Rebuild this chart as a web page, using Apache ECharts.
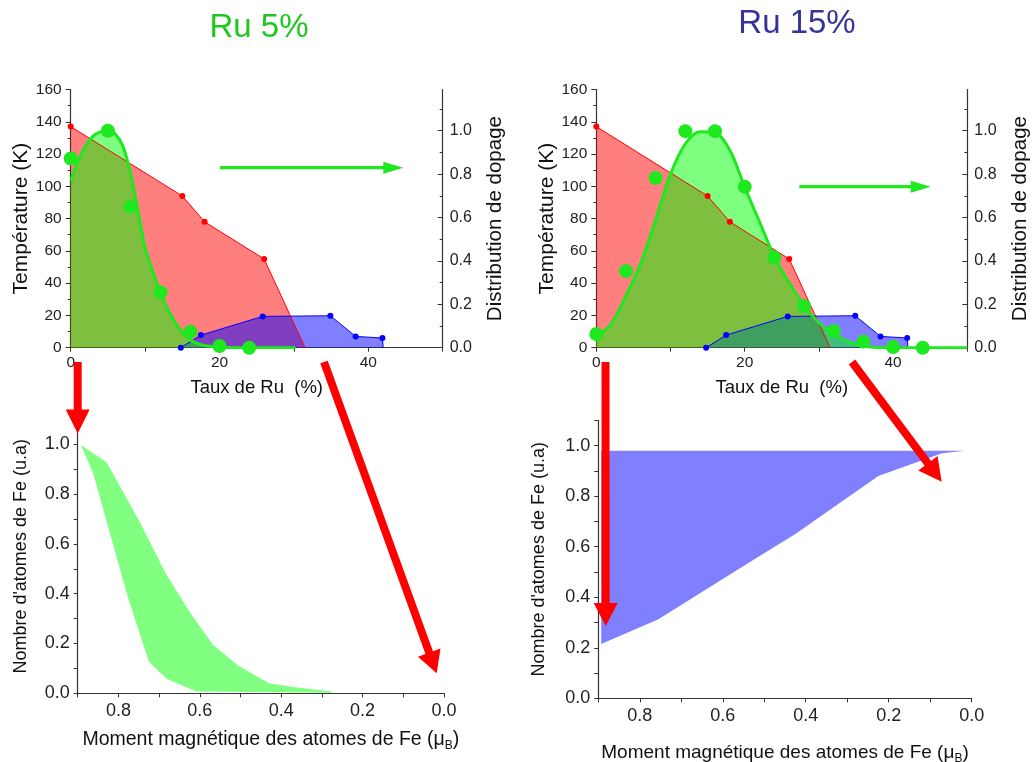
<!DOCTYPE html>
<html>
<head>
<meta charset="utf-8">
<script src="https://cdn.jsdelivr.net/npm/echarts@6/dist/echarts.min.js"></script>
<style>html,body{margin:0;padding:0;background:#fff}#c{width:1035px;height:762px}</style>
</head>
<body>
<div id="c"></div>
<script>
// ---------------- data ----------------
// Top panels: temperature (left axis) vs Ru content
const tempRed  = [[0,137],[15,94],[18,78],[26,55],[31.5,0]];          // last point = axis intercept (no marker)
const tempBlue = [[14.8,0],[17.5,7.8],[25.8,19.4],[34.9,19.8],[38.3,7.0],[41.9,6.0],[42,0]]; // last = drop (no marker)
// Doping distribution (right axis) – Ru 5%
const dop5Points = [[0,0.872],[5,1.0],[8,0.65],[12.1,0.255],[16.1,0.074],[20,0.008],[24,0.0]];
const dop5Curve  = [[0,0.77],[1,0.86],[2,0.93],[3,0.975],[4,0.995],[5,1.0],[6,0.985],[7,0.93],[8,0.81],[9,0.64],
                    [10,0.46],[11,0.355],[12,0.26],[13,0.18],[14,0.12],[15,0.07],[16,0.038],[17,0.02],[18,0.01],
                    [20,0.003],[22,0],[30.2,0]];
// Doping distribution (right axis) – Ru 15%
const dop15Points = [[0,0.063],[4,0.353],[8,0.782],[12,0.998],[16,0.998],[20,0.742],[24,0.416],[28,0.192],
                     [32,0.077],[36,0.028],[40,0.003],[44,0]];
const dop15Curve  = [[0,0.05],[2,0.11],[4,0.24],[6,0.39],[8,0.59],[10,0.80],[12,0.94],[14,0.995],[16,0.99],
                     [18,0.91],[20,0.74],[22,0.58],[24,0.42],[26,0.30],[28,0.195],[30,0.115],[32,0.063],
                     [34,0.028],[36,0.008],[38,0.001],[40,0],[50,0]];
// Bottom panels: number of Fe atoms vs magnetic moment (band = between upper and lower)
const mom5Upper  = [[0.892,0.997],[0.829,0.928],[0.747,0.687],[0.684,0.482],[0.620,0.314],[0.567,0.194],
                    [0.505,0.111],[0.430,0.040],[0.366,0.024],[0.276,0.007]];
const mom5Lower  = [[0.892,0.997],[0.862,0.884],[0.776,0.382],[0.725,0.127],[0.681,0.057],[0.608,0.007],[0.276,0.002]];
const mom15Upper = [[0.893,0.98],[0.016,0.98]];
const mom15Lower = [[0.893,0.215],[0.755,0.313],[0.550,0.524],[0.426,0.649],[0.225,0.880],[0.072,0.970],[0.016,0.98]];
// tick labels
const tauxLabels   = [0,20,40];
const distLabels   = [0,0.2,0.4,0.6,0.8,1.0];
const momentLabels = [0,0.2,0.4,0.6,0.8];
const nombreLabels = [0,0.2,0.4,0.6,0.8,1.0];

// ---------------- styles ----------------
const FONT = '"Liberation Sans", Arial, sans-serif';
const AX = '#333';
const RED = 'rgba(255,0,0,0.5)', BLUE = 'rgba(0,0,255,0.5)', GREENF = 'rgba(0,255,0,0.5)';
const GREEN = '#1ee81e';

const chart = echarts.init(document.getElementById('c'), null, {renderer:'canvas'});

function axisBase(extra){
  return Object.assign({
    type:'value',
    axisLine:{show:true,onZero:false,lineStyle:{color:AX,width:1.2}},
    axisTick:{show:true,length:4,lineStyle:{color:AX}},
    splitLine:{show:false}, minorSplitLine:{show:false},
    nameLocation:'middle'
  }, extra);
}
const lbl = (size, margin, extra) => Object.assign({fontSize:size, margin:margin, color:'#222', fontFamily:FONT}, extra||{});
const nm  = (size, extra) => Object.assign({fontSize:size, color:'#111', fontFamily:FONT}, extra||{});
const f1 = v => Number(v).toFixed(1);

function topX(gi){
  return axisBase({gridIndex:gi, min:0, max:50, interval:10,
    axisLabel: lbl(15.5,7,{customValues:tauxLabels}),
    name:'Taux de Ru  (%)', nameGap:31, nameTextStyle:nm(18.5)});
}
function topYL(gi, gap){
  return axisBase({gridIndex:gi, position:'left', min:0, max:160, interval:20,
    axisTick:{show:true,length:5,lineStyle:{color:AX}},
    minorTick:{show:true,splitNumber:2,length:3,lineStyle:{color:AX}},
    axisLabel: lbl(15.5,9),
    name:'Température (K)', nameGap:gap, nameRotate:90, nameTextStyle:nm(21)});
}
function topYR(gi, gap){
  return axisBase({gridIndex:gi, position:'right', min:0, max:1.19, interval:0.2,
    axisTick:{show:true,inside:true,length:5,customValues:distLabels,lineStyle:{color:AX}},
    minorTick:{show:true,splitNumber:2,length:3,lineStyle:{color:AX}},
    axisLabel: lbl(16,7,{customValues:distLabels, formatter:f1}),
    name:'Distribution de dopage', nameGap:gap, nameRotate:90, nameTextStyle:nm(20.5)});
}
function botX(gi, gap, size, pad){
  return axisBase({gridIndex:gi, min:0, max:0.9, interval:0.1, inverse:true,
    axisLabel: lbl(18,9,{customValues:momentLabels, formatter:f1}),
    name:'Moment magnétique des atomes de Fe ({sub|μ}{b|B})', nameGap:gap,
    nameTextStyle:nm(size,{padding:pad, lineHeight:24, rich:{
      sub:{fontSize:size,fontFamily:FONT,color:'#111',lineHeight:24},
      b:{fontSize:12,fontFamily:FONT,color:'#111',lineHeight:12,verticalAlign:'bottom'}}})});
}
function botY(gi, gap){
  return axisBase({gridIndex:gi, position:'left', min:0, max:1.1, interval:0.1,
    axisLabel: lbl(18,8,{customValues:nombreLabels, formatter:f1}),
    name:"Nombre d'atomes de Fe (u.a)", nameGap:gap, nameRotate:90, nameTextStyle:nm(18)});
}

function areaS(xi, yi, data, color, smooth){
  return {type:'line', xAxisIndex:xi, yAxisIndex:yi, data:data, symbol:'none', smooth:smooth||false,
    lineStyle:{width:0}, areaStyle:{color:color, opacity:1}, z:1, silent:true};
}
function markedLine(xi, yi, data, color, nMarked){
  return {type:'line', xAxisIndex:xi, yAxisIndex:yi,
    data: data.map((p,i)=> i<nMarked ? p : {value:p, symbol:'none'}),
    symbol:'circle', symbolSize:6, itemStyle:{color:color}, lineStyle:{color:color,width:1}, z:3};
}
function greenCurve(xi, yi, data){
  return {type:'line', xAxisIndex:xi, yAxisIndex:yi, data:data, symbol:'none', smooth:0.35,
    lineStyle:{color:GREEN,width:3}, z:3};
}
function greenDots(xi, yi, data){
  return {type:'scatter', xAxisIndex:xi, yAxisIndex:yi, data:data, symbolSize:14,
    itemStyle:{color:GREEN, opacity:1}, z:4};
}
function band(xi, yi, upper, lower, color){
  const poly = upper.concat(lower.slice().reverse());
  return {type:'custom', xAxisIndex:xi, yAxisIndex:yi, data:[[0.5,0.5]], silent:true, z:2,
    renderItem:(params, api)=>({type:'polygon', shape:{points: poly.map(p=>api.coord(p))}, style:{fill:color}})};
}

function arrowPts(x1,y1,x2,y2,w,hw,hl){
  const L=Math.hypot(x2-x1,y2-y1), dx=(x2-x1)/L, dy=(y2-y1)/L, nx=-dy, ny=dx;
  const bx=x2-dx*hl, by=y2-dy*hl;
  return [[x1+nx*w/2,y1+ny*w/2],[bx+nx*w/2,by+ny*w/2],[bx+nx*hw/2,by+ny*hw/2],[x2,y2],
          [bx-nx*hw/2,by-ny*hw/2],[bx-nx*w/2,by-ny*w/2],[x1-nx*w/2,y1-ny*w/2]];
}
const arrow = (a, color) => ({type:'polygon', z:100, silent:true,
  shape:{points:arrowPts(a[0],a[1],a[2],a[3],a[4],a[5],a[6])}, style:{fill:color}});

const option = {
  animation:false,
  backgroundColor:'#fff',
  grid:[
    {left:70.7, top:89.5, width:372, height:258.2, containLabel:false, outerBoundsMode:'none'},
    {left:596.3, top:89.5, width:371, height:258.2, containLabel:false, outerBoundsMode:'none'},
    {left:77.7, top:419.4, width:366.3, height:273.9, containLabel:false, outerBoundsMode:'none'},
    {left:598.3, top:420.4, width:373.4, height:277.9, containLabel:false, outerBoundsMode:'none'}
  ],
  xAxis:[ topX(0), topX(1), botX(2, 34, 19.5, [0,0,0,20]), botX(3, 42, 19, [0,0,0,0]) ],
  yAxis:[ topYL(0,36), topYR(0,42), topYL(1,35), topYR(1,43), botY(2,48), botY(3,50) ],
  series:[
    // Ru 5%
    areaS(0,0,tempRed,RED), areaS(0,0,tempBlue,BLUE), areaS(0,1,dop5Curve,GREENF,0.35),
    markedLine(0,0,tempRed,'#ff0000',4), markedLine(0,0,tempBlue,'#0000ff',6),
    greenCurve(0,1,dop5Curve), greenDots(0,1,dop5Points),
    // Ru 15%
    areaS(1,2,tempRed,RED), areaS(1,2,tempBlue,BLUE), areaS(1,3,dop15Curve,GREENF,0.35),
    markedLine(1,2,tempRed,'#ff0000',4), markedLine(1,2,tempBlue,'#0000ff',6),
    greenCurve(1,3,dop15Curve), greenDots(1,3,dop15Points),
    // bottom bands
    band(2,4,mom5Upper,mom5Lower,'#80ff80'),
    band(3,5,mom15Upper,mom15Lower,'#8080ff')
  ],
  graphic:[
    {type:'text', z:100, x:259, y:28, style:{text:'Ru 5%', fill:'#1ec81e', fontSize:33, fontFamily:FONT, align:'center', verticalAlign:'middle'}},
    {type:'text', z:100, x:797, y:24, style:{text:'Ru 15%', fill:'#333399', fontSize:33, fontFamily:FONT, align:'center', verticalAlign:'middle'}},
    arrow([220,167.7,403.3,167.7,3.3,12,20], GREEN),
    arrow([799.3,186.7,930.7,186.7,3.3,12,20], GREEN),
    arrow([77.7,362,77.7,433.5,8,24,24], '#ff0000'),
    arrow([324,362,436.7,673.3,8,24,22], '#ff0000'),
    arrow([605.5,362,605.7,626,8,24,23], '#ff0000'),
    arrow([852,362,941.7,481.7,8,24,23], '#ff0000')
  ]
};
chart.setOption(option);
</script>
</body>
</html>
